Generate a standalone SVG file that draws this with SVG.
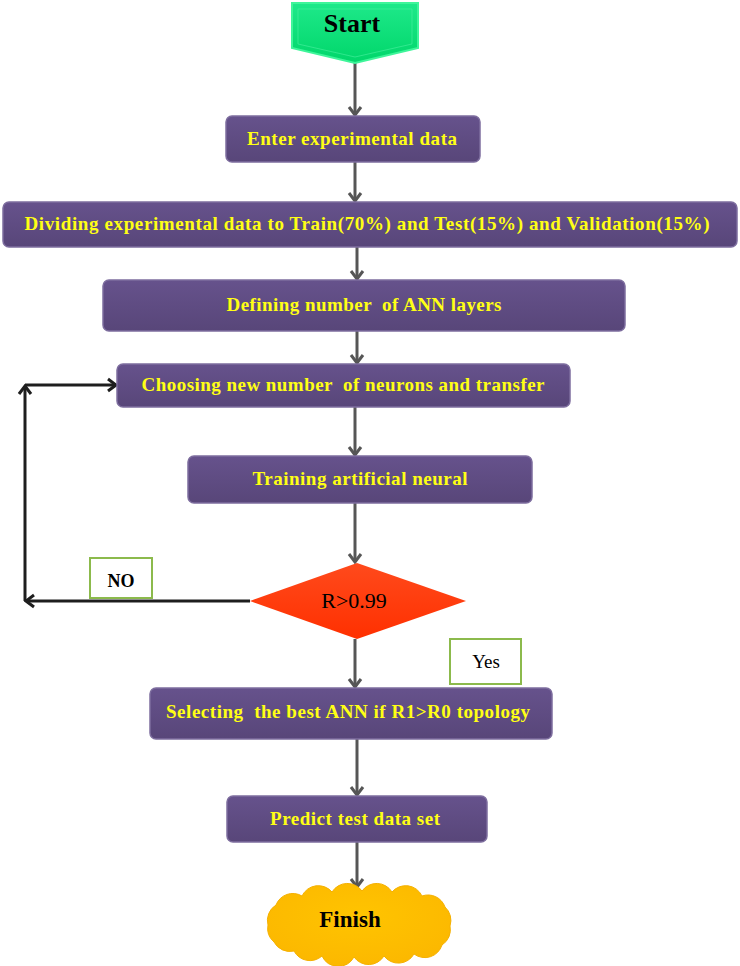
<svg xmlns="http://www.w3.org/2000/svg" width="740" height="966" viewBox="0 0 740 966">
<defs>
<style>
.box{fill:url(#pg);stroke:#7d6d9e;stroke-width:1.5}
.bt{font-family:"Liberation Serif","Times New Roman",serif;font-weight:bold;font-size:19px;fill:#FFFF14;text-anchor:middle;white-space:pre}
.lab{font-family:"Liberation Serif","Times New Roman",serif;fill:#000;text-anchor:middle}
.gl{fill:none;stroke:#565656;stroke-width:3;marker-end:url(#ag)}
.bl{fill:none;stroke:#1e1e1e;stroke-width:3;marker-end:url(#ab)}
.tag{fill:#fff;stroke:#8cba4c;stroke-width:2}
</style>
<linearGradient id="pg" x1="0" y1="0" x2="0" y2="1">
<stop offset="0" stop-color="#66528c"/>
<stop offset="1" stop-color="#584679"/>
</linearGradient>
<linearGradient id="gg" x1="0" y1="0" x2="0" y2="1">
<stop offset="0" stop-color="#1ee98a"/>
<stop offset="1" stop-color="#00d66a"/>
</linearGradient>
<linearGradient id="rg" x1="0" y1="0" x2="0" y2="1">
<stop offset="0" stop-color="#ff4a1c"/>
<stop offset="1" stop-color="#ff3000"/>
</linearGradient>
<radialGradient id="yg" cx="0.5" cy="0.4" r="0.6">
<stop offset="0" stop-color="#ffc400"/>
<stop offset="1" stop-color="#fcb800"/>
</radialGradient>
<marker id="ag" viewBox="0 0 12 16" refX="10" refY="8" markerWidth="12" markerHeight="16" orient="auto" markerUnits="userSpaceOnUse">
<path d="M2,2 L10,8 L2,14" fill="none" stroke="#565656" stroke-width="3"/>
</marker>
<marker id="ab" viewBox="0 0 12 16" refX="10" refY="8" markerWidth="12" markerHeight="16" orient="auto" markerUnits="userSpaceOnUse">
<path d="M2,2 L10,8 L2,14" fill="none" stroke="#1e1e1e" stroke-width="3"/>
</marker>
</defs>
<rect width="740" height="966" fill="#fff"/>

<g id="connectors">
<path class="gl" d="M355,63 V115"/>
<path class="gl" d="M355,162 V201"/>
<path class="gl" d="M357,247 V279"/>
<path class="gl" d="M357,331 V363"/>
<path class="gl" d="M355,407 V455"/>
<path class="gl" d="M355,503 V562"/>
<path class="gl" d="M355,639 V687"/>
<path class="gl" d="M357,739 V795"/>
<path class="gl" d="M357,842 V887"/>
<path class="bl" d="M250,601 H26"/>
<path class="bl" d="M25,601 V386"/>
<path class="bl" d="M25,385 H116"/>
</g>

<g id="start">
<polygon points="292,3 418,3 418,48 355,63 292,48" fill="url(#gg)" stroke="#3ff59a" stroke-width="2"/>
<polygon points="298,9 412,9 412,44 355,57 298,44" fill="none" stroke="#49f0a0" stroke-width="1" opacity="0.6"/>
<text class="lab" x="352" y="32" font-size="26" font-weight="bold">Start</text>
</g>

<g id="enter">
<rect class="box" x="226" y="116" width="254" height="46" rx="6"/>
<text class="bt" x="352" y="145" textLength="210" lengthAdjust="spacing">Enter experimental data</text>
</g>

<g id="dividing">
<rect class="box" x="3" y="202" width="734" height="45" rx="6"/>
<text class="bt" x="367" y="230" textLength="685" lengthAdjust="spacing">Dividing experimental data to Train(70%) and Test(15%) and Validation(15%)</text>
</g>

<g id="defining">
<rect class="box" x="103" y="280" width="522" height="51" rx="6"/>
<text class="bt" x="364" y="311" textLength="275" lengthAdjust="spacing">Defining number  of ANN layers</text>
</g>

<g id="choosing">
<rect class="box" x="117" y="364" width="453" height="43" rx="6"/>
<text class="bt" x="343" y="391" textLength="403" lengthAdjust="spacing">Choosing new number  of neurons and transfer</text>
</g>

<g id="training">
<rect class="box" x="188" y="456" width="344" height="47" rx="6"/>
<text class="bt" x="360" y="485" textLength="215" lengthAdjust="spacing">Training artificial neural</text>
</g>

<g id="decision">
<polygon points="250,601 357,563 466,601 357,639" fill="url(#rg)"/>
<text class="lab" x="354" y="608" font-size="22">R&gt;0.99</text>
</g>

<g id="no">
<rect class="tag" x="90" y="558" width="62" height="40"/>
<text class="lab" x="121" y="587" font-size="18" font-weight="bold">NO</text>
</g>

<g id="yes">
<rect class="tag" x="450" y="639" width="71" height="45"/>
<text class="lab" x="486" y="668" font-size="19">Yes</text>
</g>

<g id="selecting">
<rect class="box" x="150" y="688" width="402" height="51" rx="6"/>
<text class="bt" x="348" y="718" textLength="364" lengthAdjust="spacing">Selecting  the best ANN if R1&gt;R0 topology</text>
</g>

<g id="predict">
<rect class="box" x="227" y="796" width="260" height="46" rx="6"/>
<text class="bt" x="355" y="825" textLength="170" lengthAdjust="spacing">Predict test data set</text>
</g>

<g id="finish">
<path d="M268,925 A18,18 0 0 1 276,905 A18,18 0 0 1 302,896 A18,18 0 0 1 332,892 A18,18 0 0 1 362,891 A18,18 0 0 1 392,892 A18,18 0 0 1 422,896 A18,18 0 0 1 445,907 A18,18 0 0 1 450,926 A18,18 0 0 1 442,945 A18,18 0 0 1 414,954 A18,18 0 0 1 384,956 A18,18 0 0 1 354,957 A18,18 0 0 1 322,956 A18,18 0 0 1 294,951 A18,18 0 0 1 274,942 A18,18 0 0 1 268,925 Z" fill="url(#yg)" stroke="#f5b000" stroke-width="1"/>
<text class="lab" x="350" y="927" font-size="23" font-weight="bold">Finish</text>
</g>
</svg>
